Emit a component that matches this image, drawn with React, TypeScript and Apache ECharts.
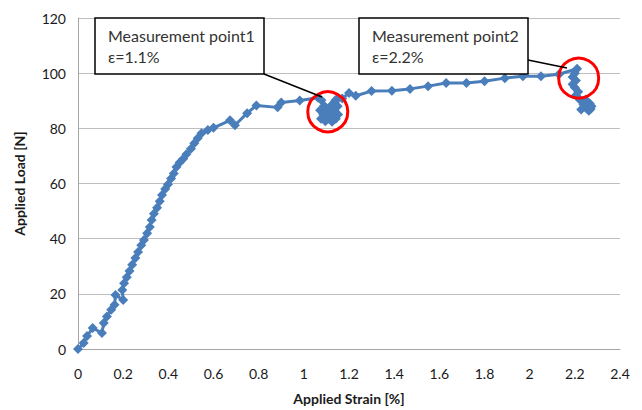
import React, { useEffect, useRef } from "react";
import * as echarts from "echarts";

// Load–strain record: [strain %, load N]
const loadingRamp: number[][] = [
  [0, 0], [0.025, 2.2], [0.04, 4.7], [0.065, 7.6], [0.106, 5.8], [0.114, 9.4],
  [0.128, 11.8], [0.147, 14.2], [0.162, 16], [0.166, 19.6], [0.2, 17.8], [0.196, 21.4],
  [0.204, 23.8], [0.216, 26], [0.228, 28.3], [0.24, 30.5], [0.254, 33], [0.266, 35.2],
  [0.28, 37.6], [0.292, 39.5], [0.306, 42], [0.318, 44.2], [0.326, 46.8], [0.336, 49],
  [0.35, 51.2], [0.362, 53.6], [0.372, 55.8], [0.386, 58], [0.398, 59.6], [0.412, 61.8],
  [0.424, 63.6], [0.436, 66], [0.45, 67.6], [0.466, 69], [0.48, 70.6], [0.5, 72.6],
  [0.515, 74.6], [0.53, 76.4], [0.547, 78.2], [0.575, 79.4], [0.6, 80.2],
];

const yieldRegion: number[][] = [
  [0.673, 82.9], [0.695, 81.1], [0.749, 85.5], [0.79, 88.3], [0.884, 87.6],
  [0.9, 89.4], [0.982, 90.1], [1.063, 91.1],
];

// Dense readings around the first measurement point
const measurement1: number[][] = [
  [1.078, 90.2], [1.09, 88.2], [1.072, 86.6], [1.086, 85], [1.076, 83.5], [1.095, 82.6],
  [1.11, 83.6], [1.125, 82.4], [1.142, 83.5], [1.152, 85], [1.136, 86.4], [1.15, 88],
  [1.136, 89.4], [1.15, 90.8], [1.12, 87.4], [1.1, 86], [1.115, 84.8], [1.1, 84],
  [1.13, 85.2], [1.122, 88.4], [1.14, 90.2], [1.17, 90.8],
];

const hardening: number[][] = [
  [1.2, 92.8], [1.23, 91.8], [1.3, 93.5], [1.39, 93.6], [1.47, 94.3], [1.55, 95.3],
  [1.63, 96.4], [1.72, 96.4], [1.8, 97.1], [1.89, 98.2], [1.97, 98.9], [2.05, 98.9],
  [2.13, 99.6],
];

// Dense readings around the second measurement point, then the load drop
const measurement2: number[][] = [
  [2.21, 101.6], [2.2, 100], [2.19, 98.6], [2.205, 97.3], [2.19, 96], [2.2, 94.8],
  [2.215, 93.3], [2.205, 92], [2.222, 90.4], [2.238, 88.6], [2.228, 86.8], [2.25, 87.4],
  [2.266, 89], [2.248, 90.4], [2.274, 88], [2.262, 86.4], [2.24, 89.6], [2.27, 87],
];

const measurementPoints: number[][] = [
  [1.106, 86],
  [2.217, 98.2],
];

const curve = [
  ...loadingRamp,
  ...yieldRegion,
  ...measurement1,
  ...hardening,
  ...measurement2,
];

const FONT = "Lato, 'Open Sans', sans-serif";

export default function App() {
  const ref = useRef<HTMLDivElement>(null);

  useEffect(() => {
    if (!ref.current) return;
    const chart = echarts.init(ref.current, undefined, { renderer: "svg" });
    chart.setOption({
      animation: false,
      backgroundColor: "#ffffff",
      grid: { left: 78, right: 22, top: 18, bottom: 57, containLabel: false },
      xAxis: {
        type: "value",
        min: 0,
        max: 2.4,
        interval: 0.2,
        name: "Applied Strain [%]",
        nameLocation: "middle",
        nameGap: 42,
        nameTextStyle: { fontFamily: FONT, fontSize: 14, fontWeight: "bold", color: "#1a1a1a" },
        axisLine: { show: true, lineStyle: { color: "#a6a6a6", width: 1 } },
        axisTick: { show: false },
        splitLine: { show: false },
        axisLabel: {
          fontFamily: FONT,
          fontSize: 14,
          color: "#1a1a1a",
          margin: 17,
          formatter: (v: number) => String(Math.round(v * 10) / 10),
        },
      },
      yAxis: {
        type: "value",
        min: 0,
        max: 120,
        interval: 20,
        name: "Applied Load [N]",
        nameLocation: "middle",
        nameGap: 52,
        nameTextStyle: { fontFamily: FONT, fontSize: 14, fontWeight: "bold", color: "#1a1a1a" },
        axisLine: { show: true, lineStyle: { color: "#a6a6a6", width: 1 } },
        axisTick: { show: false },
        splitLine: { show: true, lineStyle: { color: "#bfbfbf", width: 1 } },
        axisLabel: { fontFamily: FONT, fontSize: 14, color: "#1a1a1a", margin: 12 },
      },
      series: [
        {
          type: "line",
          data: curve,
          symbol: "diamond",
          symbolSize: 10,
          showSymbol: true,
          lineStyle: { color: "#4a7ebb", width: 3 },
          itemStyle: { color: "#4a7ebb" },
          z: 2,
          markPoint: {
            symbol: "circle",
            symbolSize: 40,
            silent: true,
            label: { show: false },
            itemStyle: { color: "rgba(0,0,0,0)", borderColor: "#ff0000", borderWidth: 3 },
            data: measurementPoints.map((p) => ({ coord: p })),
          },
        },
      ],
      graphic: [
        {
          type: "line",
          shape: { x1: 264, y1: 74, x2: 322, y2: 97 },
          style: { stroke: "#000", lineWidth: 1.5 },
          z: 10,
        },
        {
          type: "line",
          shape: { x1: 528, y1: 60, x2: 567, y2: 68 },
          style: { stroke: "#000", lineWidth: 1.5 },
          z: 10,
        },
        {
          type: "rect",
          shape: { x: 95, y: 18, width: 169, height: 56 },
          style: { fill: "#ffffff", stroke: "#000", lineWidth: 1.5 },
          z: 10,
        },
        {
          type: "text",
          x: 108,
          y: 25,
          style: {
            text: "Measurement point1\nε=1.1%",
            fontFamily: FONT,
            fontSize: 16,
            lineHeight: 21,
            fill: "#333",
          },
          z: 11,
        },
        {
          type: "rect",
          shape: { x: 359, y: 18, width: 169, height: 56 },
          style: { fill: "#ffffff", stroke: "#000", lineWidth: 1.5 },
          z: 10,
        },
        {
          type: "text",
          x: 372,
          y: 25,
          style: {
            text: "Measurement point2\nε=2.2%",
            fontFamily: FONT,
            fontSize: 16,
            lineHeight: 21,
            fill: "#333",
          },
          z: 11,
        },
      ],
    });
    return () => chart.dispose();
  }, []);

  return (
    <div
      ref={ref}
      style={{ position: "fixed", left: 0, top: 0, width: 642, height: 410, background: "#fff" }}
    />
  );
}
